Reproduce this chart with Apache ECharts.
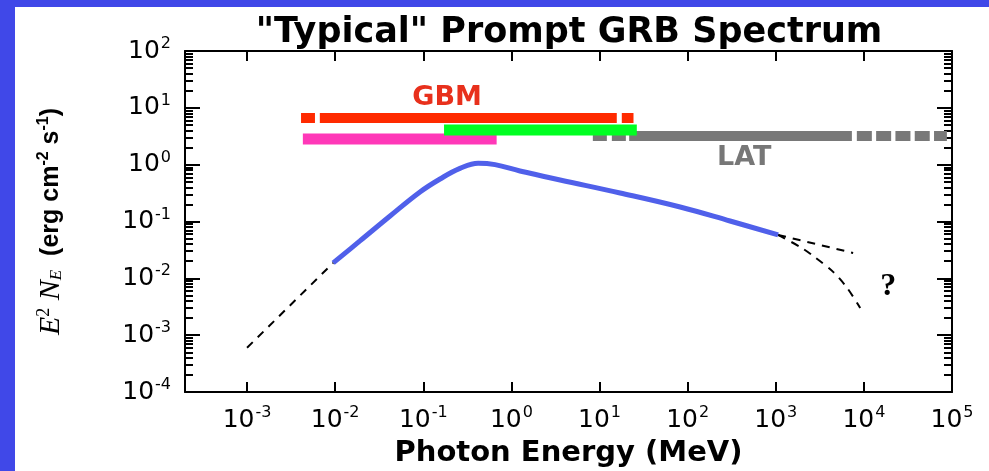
<!DOCTYPE html>
<html><head><meta charset="utf-8">
<script src="https://cdn.jsdelivr.net/npm/echarts@6/dist/echarts.min.js"></script>
<style>
html,body{margin:0;padding:0;width:989px;height:471px;background:#4048E8;overflow:hidden}
#chart{position:absolute;left:15px;top:7px;width:974px;height:464px;background:#fff}
</style></head><body><div id="chart"></div>
<script>
// ---- axis ranges (log10 of MeV and of erg cm^-2 s^-1) ----
const xMinExp = -3.704, xMaxExp = 5;
const yMinExp = -4, yMaxExp = 2;
const xTickExponents = [-3, -2, -1, 0, 1, 2, 3, 4, 5];
const yTickExponents = [-4, -3, -2, -1, 0, 1, 2];

// ---- prompt spectrum (solid blue) ----
const bandEnergy = [0.0095, 0.0191, 0.042, 0.0918, 0.155, 0.261, 0.42, 0.653, 1.25, 3.57, 17.1, 82.2, 303, 1064];
const bandFlux   = [0.0187, 0.0455, 0.125, 0.331, 0.560, 0.860, 1.06, 1.0, 0.775, 0.538, 0.318, 0.180, 0.102, 0.058];

// ---- dashed extrapolations ----
const lowExtEnergy = [0.001, 0.0095];
const lowExtFlux   = [0.0006, 0.0187];
const highExtEnergy = [1064, 7550];
const highExtFlux   = [0.058, 0.028];
const cutoffEnergy = [1064, 1890, 2655, 4480, 6460, 9080];
const cutoffFlux   = [0.058, 0.0357, 0.0248, 0.0130, 0.00678, 0.00301];

// ---- instrument energy ranges (MeV) and their drawing levels ----
const gbmRedSegments = [[0.0041, 0.0059], [0.0067, 15.7], [17.9, 24.3]];
const gbmRedLevel = 6.6;
const gbmPinkRange = [0.0043, 0.68];
const gbmPinkLevel = 2.83;
const gbmGreenRange = [0.172, 26.5];
const gbmGreenLevel = 4.07;
const latLowDashRange = [8.4, 21.7];
const latSolidRange = [21.7, 7310];
const latHighDashRange = [8320, 87500];
const latLevel = 3.2;

// ---- annotation anchors ----
const gbmLabelAt = [0.186, 15.0];
const latLabelAt = [438, 1.32];
const questionAt = [18900, 0.00706];

const L = Math.log10;
const pairs = (es, fs) => es.map((e, i) => [L(e), L(fs[i])]);
const hline = (segs, lvl) => {
  const out = [];
  segs.forEach((s, i) => {
    if (i) out.push(['-', '-']);
    out.push([L(s[0]), L(lvl)], [L(s[1]), L(lvl)]);
  });
  return out;
};

const yMinor = [];
for (let n = yMinExp; n < yMaxExp; n++) for (let k = 2; k <= 9; k++) yMinor.push(n + L(k));

const black = '#000';
const tickLabelRich = {
  b: {fontFamily: 'DejaVu Sans', fontSize: 25, color: black},
  s: {fontFamily: 'DejaVu Sans', fontSize: 16, color: black, padding: [0, 0, 14, 1]}
};
const expFmt = v => '{b|10}{s|' + Math.round(v) + '}';

function xAx(pos, showLabel) {
  return {
    type: 'value', position: pos, min: xMinExp, max: xMaxExp,
    splitLine: {show: false},
    axisLine: {onZero: false, lineStyle: {color: black, width: 2}},
    axisTick: {inside: true, length: 10, customValues: xTickExponents, lineStyle: {color: black, width: 2}},
    axisLabel: showLabel ? {customValues: xTickExponents, formatter: expFmt, margin: 13, rich: tickLabelRich} : {show: false}
  };
}
function yAx(pos, major, showLabel) {
  return {
    type: 'value', position: pos, min: yMinExp, max: yMaxExp,
    splitLine: {show: false},
    axisLine: {show: major, onZero: false, lineStyle: {color: black, width: 2}},
    axisTick: {inside: true, length: major ? 15 : 8, customValues: major ? yTickExponents : yMinor, lineStyle: {color: black, width: 2}},
    axisLabel: showLabel ? {customValues: yTickExponents, formatter: expFmt, margin: 14, align: 'right', rich: tickLabelRich} : {show: false}
  };
}

const xAxes = [xAx('bottom', true), xAx('top', false)];
Object.assign(xAxes[0], {
  name: 'Photon Energy (MeV)', nameLocation: 'middle', nameGap: 47, nameMoveOverlap: false,
  nameTextStyle: {fontFamily: 'DejaVu Sans', fontWeight: 'bold', fontSize: 29, color: black, verticalAlign: 'top'}
});
const yAxes = [yAx('left', true, true), yAx('left', false, false), yAx('right', true, false), yAx('right', false, false)];
Object.assign(yAxes[0], {
  name: '{i|E}{sup|2}{i| N}{sub|E}{b|  (erg cm}{sp|-2}{b| s}{sp|-1}{b|)}',
  nameLocation: 'middle', nameGap: 118, nameRotate: 90, nameMoveOverlap: false,
  nameTextStyle: {
    color: black,
    rich: {
      i: {fontFamily: 'Liberation Serif', fontStyle: 'italic', fontSize: 30, color: black},
      sup: {fontFamily: 'Liberation Serif', fontSize: 18, color: black, padding: [0, 0, 14, 0]},
      sub: {fontFamily: 'Liberation Serif', fontStyle: 'italic', fontSize: 17, color: black, padding: [12, 0, 0, 0]},
      b: {fontFamily: 'Liberation Sans', fontWeight: 'bold', fontSize: 25, color: black},
      sp: {fontFamily: 'Liberation Sans', fontWeight: 'bold', fontSize: 16, color: black, padding: [0, 0, 14, 0]}
    }
  }
});

const barSeries = (name, data, color, width, type, extra) => Object.assign({
  name, type: 'line', data, symbol: 'none', silent: true, connectNulls: false,
  lineStyle: {color, width, type, cap: 'butt'}
}, extra || {});

const markLabel = (at, text, style) => ({
  symbol: 'circle', symbolSize: 0, silent: true,
  data: [{coord: [L(at[0]), L(at[1])], value: text}],
  label: Object.assign({show: true, position: 'inside', formatter: text}, style)
});

const chart = echarts.init(document.getElementById('chart'));
chart.setOption({
  animation: false,
  backgroundColor: '#fff',
  title: {
    text: '"Typical" Prompt GRB Spectrum', left: 554, top: 8, textAlign: 'center', padding: 0,
    textStyle: {fontFamily: 'DejaVu Sans', fontWeight: 'bold', fontSize: 35, color: black}
  },
  grid: {left: 170, top: 44, right: 37, bottom: 79, containLabel: false, outerBoundsMode: 'none'},
  xAxis: xAxes,
  yAxis: yAxes,
  series: [
    barSeries('LAT', hline([latSolidRange], latLevel), '#787878', 10, 'solid', {
      markPoint: markLabel(latLabelAt, 'LAT', {color: '#777', fontFamily: 'DejaVu Sans', fontWeight: 'bold', fontSize: 27})
    }),
    barSeries('LAT low', hline([latLowDashRange], latLevel), '#787878', 10, [14, 5]),
    barSeries('LAT high', hline([latHighDashRange], latLevel), '#787878', 10, [15, 4.3]),
    barSeries('GBM pink', hline([gbmPinkRange], gbmPinkLevel), '#FF38B8', 11, 'solid'),
    barSeries('GBM green', hline([gbmGreenRange], gbmGreenLevel), '#00FF22', 11, 'solid'),
    barSeries('GBM red', hline(gbmRedSegments, gbmRedLevel), '#FF2A00', 10, 'solid', {
      markPoint: markLabel(gbmLabelAt, 'GBM', {color: '#E8301C', fontFamily: 'DejaVu Sans', fontWeight: 'bold', fontSize: 27})
    }),
    {name: 'low ext', type: 'line', data: pairs(lowExtEnergy, lowExtFlux), symbol: 'none', lineStyle: {color: black, width: 2, type: [8, 7]}},
    {name: 'high ext', type: 'line', data: pairs(highExtEnergy, highExtFlux), symbol: 'none', lineStyle: {color: black, width: 2, type: [8, 7]}},
    {name: 'cutoff', type: 'line', data: pairs(cutoffEnergy, cutoffFlux), symbol: 'none', smooth: 0.3, lineStyle: {color: black, width: 2, type: [8, 7]},
      markPoint: markLabel(questionAt, '?', {color: black, fontFamily: 'Liberation Serif', fontWeight: 'bold', fontSize: 32})},
    {name: 'Band', type: 'line', data: pairs(bandEnergy, bandFlux), symbol: 'none', smooth: 0.4, lineStyle: {color: '#5060EA', width: 5}}
  ]
});
</script></body></html>
